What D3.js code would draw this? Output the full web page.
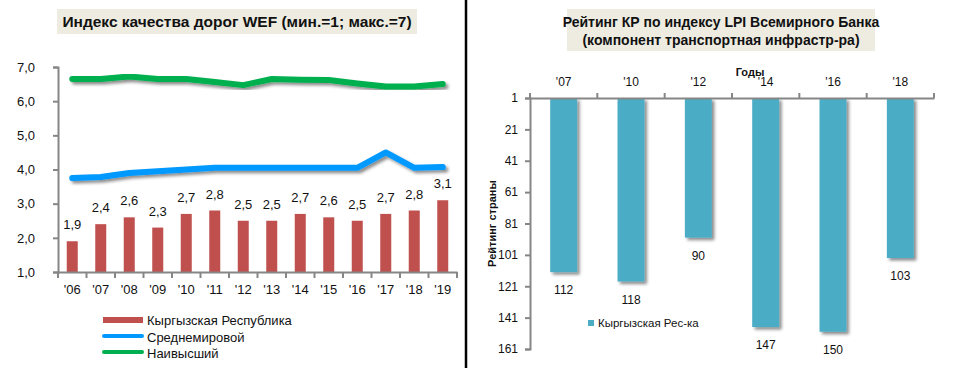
<!DOCTYPE html>
<html><head><meta charset="utf-8">
<script src="https://cdn.jsdelivr.net/npm/d3@7"></script>
<style>
body{margin:0;background:#fff;}
svg{display:block;font-family:"Liberation Sans",Arial,sans-serif;}
</style></head>
<body>
<svg id="c" width="956" height="368"></svg>
<script>
// ---- Left chart data ----
const years = ["'06","'07","'08","'09","'10","'11","'12","'13","'14","'15","'16","'17","'18","'19"];
const krValues = [1.9,2.4,2.6,2.3,2.7,2.8,2.5,2.5,2.7,2.6,2.5,2.7,2.8,3.1];
const worldAvg = [3.75,3.78,3.9,3.95,4.0,4.05,4.05,4.05,4.05,4.05,4.05,4.5,4.05,4.07];
const highest  = [6.65,6.65,6.72,6.65,6.65,6.56,6.47,6.65,6.63,6.62,6.52,6.43,6.43,6.5];
const leftTicks = [1,2,3,4,5,6,7];
const leftTitle = "Индекс качества дорог WEF (мин.=1; макс.=7)";
const leftLegend = ["Кыргызская Республика","Среднемировой","Наивысший"];

// ---- Right chart data ----
const lpiYears = ["'07","'10","'12","'14","'16","'18"];
const lpiRank = [112,118,90,147,150,103];
const rightTicks = [1,21,41,61,81,101,121,141,161];
const rightTitle = ["Рейтинг КР по индексу LPI Всемирного Банка","(компонент транспортная инфрастр-ра)"];
const rightLegend = "Кыргызская Рес-ка";

const svg = d3.select("#c");
const defs = svg.append("defs");
const f = defs.append("filter").attr("id","sh").attr("x","-20%").attr("y","-20%").attr("width","150%").attr("height","150%");
f.append("feDropShadow").attr("dx",2.5).attr("dy",2.5).attr("stdDeviation",1.5).attr("flood-color","#000").attr("flood-opacity",0.45);

const axisColor = "#868686";

// ===== Left chart =====
const L = {x0:58, x1:457, y0:272, y1:67};
const xL = d3.scaleBand().domain(years).range([L.x0,L.x1]);
const yL = d3.scaleLinear().domain([1,7]).range([L.y0,L.y1]);

// title
svg.append("rect").attr("x",57).attr("y",9).attr("width",360).attr("height",25).attr("fill","#eeece1");
svg.append("text").attr("x",237).attr("y",27).attr("text-anchor","middle")
  .attr("font-size",15.5).attr("font-weight","bold").attr("fill","#111").text(leftTitle);

// bars
svg.append("g").selectAll("rect").data(krValues).join("rect")
  .attr("x",(d,i)=>xL(years[i])+xL.bandwidth()/2-5.5)
  .attr("width",11)
  .attr("y",d=>yL(d)).attr("height",d=>yL(1)-yL(d))
  .attr("fill","#c0504d");
svg.append("g").selectAll("text").data(krValues).join("text")
  .attr("x",(d,i)=>xL(years[i])+xL.bandwidth()/2)
  .attr("y",d=>yL(d)-12)
  .attr("text-anchor","middle").attr("font-size",13).attr("fill","#111")
  .text(d=>d3.format(".1f")(d).replace(".",","));

// lines
const lineGen = d3.line().x((d,i)=>xL(years[i])+xL.bandwidth()/2).y(d=>yL(d));
svg.append("path").datum(worldAvg).attr("d",lineGen).attr("fill","none")
  .attr("stroke","#0099ff").attr("stroke-width",6).attr("stroke-linecap","round").attr("stroke-linejoin","round").attr("filter","url(#sh)");
svg.append("path").datum(highest).attr("d",lineGen).attr("fill","none")
  .attr("stroke","#00b050").attr("stroke-width",6).attr("stroke-linecap","round").attr("stroke-linejoin","round").attr("filter","url(#sh)");

// axes
const yAxL = svg.append("g").attr("transform",`translate(${L.x0},0)`)
  .call(d3.axisLeft(yL).tickValues(leftTicks).tickSize(5).tickFormat(d=>d3.format(".1f")(d).replace(".",",")));
yAxL.select(".domain").attr("stroke",axisColor).attr("stroke-width",2);
yAxL.selectAll(".tick line").attr("stroke",axisColor).attr("stroke-width",2);
yAxL.selectAll(".tick text").attr("font-size",13).attr("fill","#111").attr("font-family","Liberation Sans, Arial").attr("x",-23);

const xAxL = svg.append("g").attr("transform",`translate(0,${L.y0})`)
  .call(d3.axisBottom(xL).tickSize(0).tickPadding(13));
xAxL.select(".domain").attr("stroke",axisColor).attr("stroke-width",2);
xAxL.selectAll(".tick text").attr("font-size",13).attr("fill","#111").attr("font-family","Liberation Sans, Arial");
// category boundary ticks
svg.append("g").selectAll("line").data(years.concat(["end"])).join("line")
  .attr("x1",(d,i)=>L.x0+i*xL.step()).attr("x2",(d,i)=>L.x0+i*xL.step())
  .attr("y1",L.y0).attr("y2",L.y0+6).attr("stroke",axisColor).attr("stroke-width",2);

// legend
const lg = svg.append("g");
lg.append("rect").attr("x",103).attr("y",317).attr("width",40).attr("height",6).attr("fill","#c0504d");
lg.append("line").attr("x1",104).attr("x2",142).attr("y1",336).attr("y2",336).attr("stroke","#0099ff").attr("stroke-width",4).attr("stroke-linecap","round");
lg.append("line").attr("x1",104).attr("x2",142).attr("y1",352).attr("y2",352).attr("stroke","#00b050").attr("stroke-width",4).attr("stroke-linecap","round");
lg.selectAll("text").data(leftLegend).join("text")
  .attr("x",147).attr("y",(d,i)=>325+i*16.5).attr("font-size",13).attr("fill","#111").text(d=>d);

// divider
svg.append("line").attr("x1",466).attr("x2",466).attr("y1",0).attr("y2",368).attr("stroke","#000").attr("stroke-width",2.5);

// ===== Right chart =====
const R = {x0:530, x1:934, y0:98, y1:349};
const xR = d3.scaleBand().domain(lpiYears).range([R.x0,R.x1]).paddingInner(0.6).paddingOuter(0.3);
const yR = d3.scaleLinear().domain([1,161]).range([R.y0,R.y1]);

svg.append("rect").attr("x",567).attr("y",9).attr("width",308).attr("height",42).attr("fill","#eeece1");
svg.append("g").selectAll("text").data(rightTitle).join("text")
  .attr("x",721).attr("y",(d,i)=>27+i*18).attr("text-anchor","middle")
  .attr("font-size",14).attr("font-weight","bold").attr("fill","#111").text(d=>d);

// bars
svg.append("g").selectAll("rect").data(lpiRank).join("rect")
  .attr("x",(d,i)=>xR(lpiYears[i])).attr("width",xR.bandwidth())
  .attr("y",yR(1)).attr("height",d=>yR(d)-yR(1))
  .attr("fill","#4bacc6").attr("filter","url(#sh)");
svg.append("g").selectAll("text").data(lpiRank).join("text")
  .attr("x",(d,i)=>xR(lpiYears[i])+xR.bandwidth()/2)
  .attr("y",d=>yR(d)+22).attr("text-anchor","middle").attr("font-size",12).attr("fill","#111").text(d=>d);

// y axis
const yAxR = svg.append("g").attr("transform",`translate(${R.x0},0)`)
  .call(d3.axisLeft(yR).tickValues(rightTicks).tickSize(5).tickPadding(7));
yAxR.select(".domain").attr("stroke",axisColor).attr("stroke-width",2);
yAxR.selectAll(".tick line").attr("stroke",axisColor).attr("stroke-width",2);
yAxR.selectAll(".tick text").attr("font-size",12).attr("fill","#111").attr("font-family","Liberation Sans, Arial");

// top x axis
const xAxR = svg.append("g").attr("transform",`translate(0,${R.y0})`)
  .call(d3.axisTop(xR).tickSize(0).tickPadding(12));
xAxR.select(".domain").attr("stroke",axisColor).attr("stroke-width",2);
xAxR.selectAll(".tick text").attr("font-size",12).attr("fill","#111").attr("font-family","Liberation Sans, Arial");
const stepR = (R.x1-R.x0)/lpiYears.length;
svg.append("g").selectAll("line").data(d3.range(lpiYears.length+1)).join("line")
  .attr("x1",d=>R.x0+d*stepR).attr("x2",d=>R.x0+d*stepR)
  .attr("y1",R.y0).attr("y2",R.y0-5).attr("stroke",axisColor).attr("stroke-width",2);

svg.append("text").attr("x",750).attr("y",76).attr("text-anchor","middle").attr("font-size",11).attr("font-weight","bold").attr("fill","#111").text("Годы");
svg.append("text").attr("transform",`translate(496,${(R.y0+R.y1)/2}) rotate(-90)`).attr("text-anchor","middle")
  .attr("font-size",11).attr("font-weight","bold").attr("fill","#111").text("Рейтинг страны");

// legend
svg.append("rect").attr("x",588).attr("y",320).attr("width",6).attr("height",6).attr("fill","#4bacc6");
svg.append("text").attr("x",598).attr("y",327).attr("font-size",11.5).attr("fill","#111").text(rightLegend);
</script>
</body></html>
